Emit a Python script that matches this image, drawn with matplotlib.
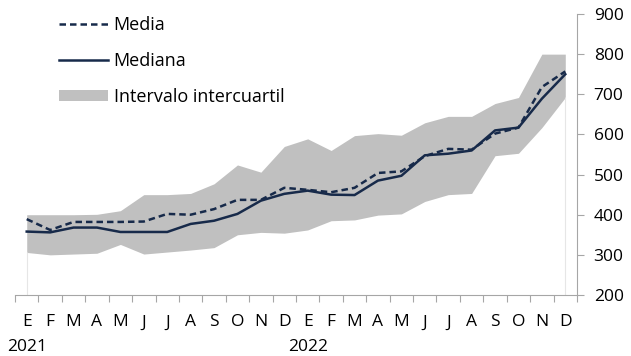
import numpy as np
import matplotlib.pyplot as plt
from matplotlib.patches import Patch
from matplotlib.lines import Line2D

plt.rcParams['font.family'] = ['Open Sans', 'DejaVu Sans']

meses = ['E', 'F', 'M', 'A', 'M', 'J', 'J', 'A', 'S', 'O', 'N', 'D'] * 2
anios = {0: '2021', 12: '2022'}

media = [389, 362, 382, 382, 382, 383, 402, 400, 414, 437, 437, 467,
         462, 456, 467, 504, 508, 546, 564, 562, 602, 617, 718, 757]
mediana = [358, 356, 368, 368, 357, 357, 357, 377, 385, 402, 435, 452,
           460, 450, 449, 485, 497, 548, 552, 560, 610, 617, 689, 750]
q1 = [306, 300, 302, 304, 326, 302, 307, 312, 318, 350, 356, 354,
      362, 385, 387, 399, 402, 433, 450, 453, 547, 553, 617, 692]
q3 = [400, 400, 400, 401, 410, 450, 450, 453, 477, 524, 506, 570,
      589, 560, 597, 602, 598, 629, 645, 645, 677, 692, 800, 800]

azul = '#172a4a'
gris = '#c0c0c0'
eje = '#a6a6a6'

fig = plt.figure(figsize=(6.31, 3.56), dpi=100)
ax = fig.add_axes([15 / 631, 61 / 356, 562 / 631, 281 / 356])

x = np.arange(len(meses))
ax.fill_between(x, q1, q3, color=gris, lw=0, zorder=1)
ax.vlines([x[0], x[-1]], 200, [q1[0], q1[-1]], color='#e6e6e6', lw=0.8, zorder=1)
ax.plot(x, mediana, color=azul, lw=1.8, zorder=3)
ax.plot(x, media, color=azul, lw=1.8, ls=(0, (2.6, 1.6)), zorder=4)

ax.set_xlim(-0.5, len(meses) - 0.5)
ax.set_ylim(200, 900)

# y axis on the right
for s in ['top', 'left']:
    ax.spines[s].set_visible(False)
ax.spines['right'].set_color(eje)
ax.spines['bottom'].set_color(eje)
ax.yaxis.tick_right()
ax.set_yticks(range(200, 901, 100))
ax.tick_params(axis='y', direction='out', length=5, color=eje, pad=7,
               labelsize=12.5, labelcolor='#000000')

# month ticks between categories, labels at centres
ax.set_xticks(np.arange(-0.5, len(meses)), labels=[])
ax.tick_params(axis='x', which='major', direction='out', length=5, color=eje)
ax.set_xticks(x, labels=meses, minor=True)
ax.tick_params(axis='x', which='minor', length=0, pad=14, labelsize=12.5)

# year under each January
for i, anio in anios.items():
    ax.text(i, -0.185, anio, transform=ax.get_xaxis_transform(),
            ha='center', va='center', fontsize=12.5)

handles = [Line2D([], [], color=azul, lw=1.8, ls=(0, (2.6, 1.6))),
           Line2D([], [], color=azul, lw=1.8),
           Patch(facecolor=gris, edgecolor='none')]
ax.legend(handles, ['Media', 'Mediana', 'Intervalo intercuartil'],
          loc='upper left', bbox_to_anchor=(0.05, 1.05), frameon=False,
          fontsize=13, handlelength=2.7, handleheight=0.55,
          handletextpad=0.3, labelspacing=1.0)

fig.savefig('out.png', dpi=100)
